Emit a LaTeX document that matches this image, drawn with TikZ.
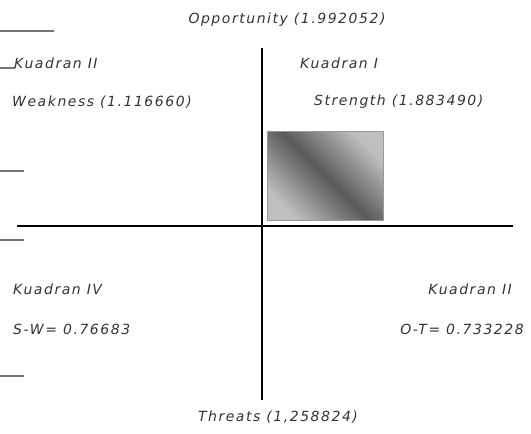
\documentclass[tikz,border=0pt]{standalone}
\usepackage{fontspec}
\newfontfamily\hand[LetterSpace=11]{DejaVu Sans}
\begin{document}
\begin{tikzpicture}[x=1pt,y=-1pt,
  lbl/.style={font=\hand\itshape\fontsize{14}{16}\selectfont, text=black!80, inner sep=0pt},
  axisline/.style={line width=2.8pt, black},
  tick/.style={line width=2.2pt, black!55}]
\useasboundingbox (0,0) rectangle (531,434);
% gray short lines at left
\coordinate (g1a) at (0,31);  \coordinate (g1b) at (54,31);
\coordinate (g2a) at (0,68);  \coordinate (g2b) at (15,68);
\coordinate (g3a) at (0,171); \coordinate (g3b) at (24,171);
\coordinate (g4a) at (0,240); \coordinate (g4b) at (24,240);
\coordinate (g5a) at (0,376); \coordinate (g5b) at (24,376);
\draw[tick] (g1a) -- (g1b);
\draw[tick] (g2a) -- (g2b);
\draw[tick] (g3a) -- (g3b);
\draw[tick] (g4a) -- (g4b);
\draw[tick] (g5a) -- (g5b);
% axes
\coordinate (vt) at (262,48); \coordinate (vb) at (262,400);
\coordinate (hl) at (17,226); \coordinate (hr) at (513,226);
\draw[axisline] (vt) -- (vb);
\draw[axisline] (hl) -- (hr);
% shaded box
\node[draw=black!40, line width=1pt, minimum width=116pt, minimum height=89pt, inner sep=0pt,
  shading=axis, top color=black!25, bottom color=black!25, middle color=black!65, shading angle=-45,
  anchor=north west] (box) at (267,131) {};
% labels
\node[lbl] (opp) at (287,20) {Opportunity (1.992052)};
\node[lbl, anchor=west] (k2) at (14,63) {Kuadran II};
\node[lbl, anchor=west] (k1) at (300,63) {Kuadran I};
\node[lbl, anchor=west] (wk) at (12,102) {Weakness (1.116660)};
\node[lbl, anchor=west] (st) at (314,102) {Strength (1.883490)};
\node[lbl, anchor=west] (k4) at (13,289) {Kuadran IV};
\node[lbl, anchor=east] (k2b) at (512,289) {Kuadran II};
\node[lbl, anchor=west] (sw) at (13,329) {S-W= 0.76683};
\node[lbl, anchor=east] (ot) at (524,329) {O-T= 0.733228};
\node[lbl] (thr) at (278,417) {Threats (1,258824)};
\end{tikzpicture}
\end{document}
